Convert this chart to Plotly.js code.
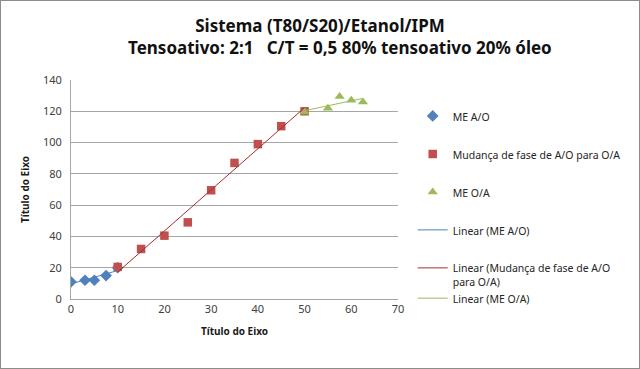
<!DOCTYPE html>
<html><head><meta charset="utf-8">
<script src="https://cdn.plot.ly/plotly-3.0.1.min.js"></script>
<style>
html,body{margin:0;padding:0;background:#fff;}
#chart{width:640px;height:369px;border:1px solid #8c8c8c;box-sizing:border-box;}
</style></head>
<body><div id="chart"></div>
<script>
// Data
const aoX = [0, 3, 5, 7.5, 10];
const aoY = [11, 12, 12, 15, 20];
const mudX = [10, 15, 20, 25, 30, 35, 40, 45, 50];
const mudY = [20.5, 32, 40.5, 49, 69.5, 87, 99, 110.5, 120];
const oaX = [50, 55, 57.5, 60, 62.5];
const oaY = [119.5, 122, 129.5, 127, 126];

const names = ["ME A/O", "Mudança de fase de A/O para O/A", "ME O/A"];
const trendNames = ["Linear (ME A/O)", "Linear (Mudança de fase de A/O<br>para O/A)", "Linear (ME O/A)"];

function linfit(xs, ys) {
  const n = xs.length;
  const mx = xs.reduce((a, b) => a + b, 0) / n;
  const my = ys.reduce((a, b) => a + b, 0) / n;
  let sxy = 0, sxx = 0;
  for (let i = 0; i < n; i++) { sxy += (xs[i] - mx) * (ys[i] - my); sxx += (xs[i] - mx) ** 2; }
  const m = sxy / sxx, b = my - m * mx;
  const x0 = Math.min(...xs), x1 = Math.max(...xs);
  return { x: [x0, x1], y: [m * x0 + b, m * x1 + b] };
}

const fAO = linfit(aoX, aoY), fMud = linfit(mudX, mudY), fOA = linfit(oaX, oaY);

const traces = [
  { x: aoX, y: aoY, name: names[0], mode: "markers", type: "scatter", legendgroup: "g1",
    marker: { symbol: "diamond", size: 9, color: "#4F81BD" } },
  { x: mudX, y: mudY, name: names[1], mode: "markers", type: "scatter", legendgroup: "g2",
    marker: { symbol: "square", size: 8.5, color: "#C0504D" } },
  { x: oaX, y: oaY, name: names[2], mode: "markers", type: "scatter", legendgroup: "g3",
    marker: { symbol: "triangle-up", size: 9, color: "#9BBB59" } },
  { x: fAO.x, y: fAO.y, name: trendNames[0], mode: "lines", type: "scatter", legendgroup: "g4",
    line: { color: "#4F81BD", width: 1 } },
  { x: fMud.x, y: fMud.y, name: trendNames[1], mode: "lines", type: "scatter", legendgroup: "g5",
    line: { color: "#A0302D", width: 1 } },
  { x: fOA.x, y: fOA.y, name: trendNames[2], mode: "lines", type: "scatter", legendgroup: "g5",
    line: { color: "#9BBB59", width: 1 } }
];

const layout = {
  width: 638, height: 367,
  margin: { l: 70, r: 241, t: 79, b: 69 },
  paper_bgcolor: "#fff", plot_bgcolor: "#fff",
  font: { family: "Noto Sans, Open Sans, sans-serif", color: "#404040" },
  title: {
    text: "Sistema (T80/S20)/Etanol/IPM<br>&nbsp;&nbsp;&nbsp;&nbsp;&nbsp;&nbsp;&nbsp;&nbsp;&nbsp;Tensoativo: 2:1   C/T = 0,5 80% tensoativo 20% óleo",
    font: { size: 17, color: "#111", family: "Noto Sans, sans-serif", weight: "bold" },
    x: 0.5, xanchor: "center", y: 0.9145, yanchor: "top"
  },
  xaxis: {
    range: [0, 70], dtick: 10, tick0: 0, showgrid: false, zeroline: false,
    showline: true, linecolor: "#a6a6a6", linewidth: 1, ticks: "", fixedrange: true,
    tickfont: { size: 11, color: "#404040" },
    title: { text: "Título do Eixo", font: { size: 10, color: "#1a1a1a", weight: "bold" }, standoff: 12 }
  },
  yaxis: {
    range: [0, 140], dtick: 20, tick0: 0, showgrid: true, gridcolor: "#a6a6a6", gridwidth: 1,
    zeroline: false, showline: true, linecolor: "#a6a6a6", linewidth: 1, ticks: "", fixedrange: true,
    tickfont: { size: 11, color: "#404040" }, ticklabelstandoff: 6,
    title: { text: "Título do Eixo", font: { size: 10, color: "#1a1a1a", weight: "bold" }, standoff: 11 }
  },
  showlegend: true,
  legend: {
    x: 1.045, xanchor: "left", y: 0.897, yanchor: "top",
    font: { size: 10.5, color: "#262626" },
    tracegroupgap: 19, valign: "top", itemwidth: 30,
    bgcolor: "rgba(0,0,0,0)"
  }
};

Plotly.newPlot("chart", traces, layout, { displayModeBar: false, staticPlot: true });
</script></body></html>
